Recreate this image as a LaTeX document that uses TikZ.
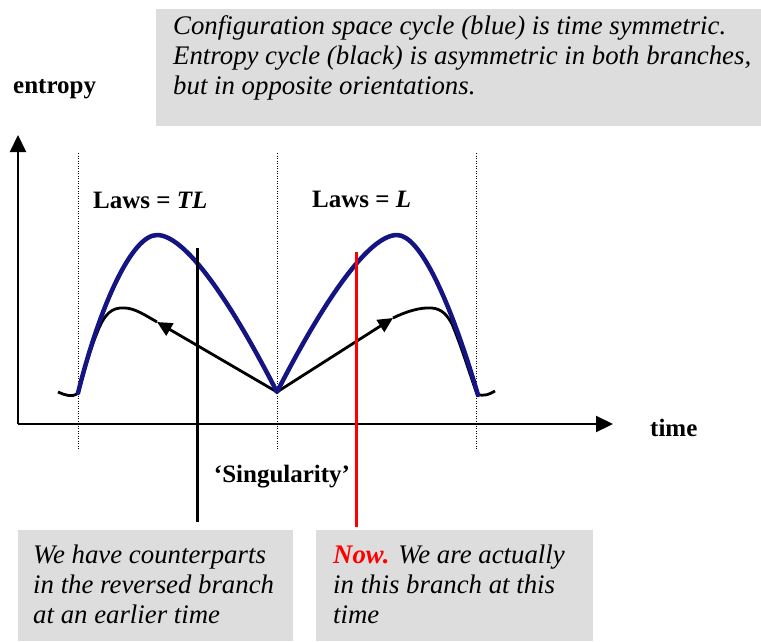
\documentclass[tikz,border=0pt]{standalone}
\usepackage{fontspec}
\setmainfont{Liberation Serif}
\usetikzlibrary{arrows.meta}
\definecolor{boxgray}{RGB}{221,221,221}
\definecolor{cycblue}{RGB}{20,20,130}
\definecolor{nowred}{RGB}{255,0,0}
\begin{document}
\begin{tikzpicture}[x=1pt,y=-1pt,
  itxt/.style={inner sep=0pt, anchor=base west, font=\fontsize{26.8}{30}\selectfont\itshape},
  blbl/.style={inner sep=0pt, font=\fontsize{25}{30}\selectfont\bfseries},
  notebox/.style={fill=boxgray, draw=none},
  axisline/.style={line width=2.2pt, -{Triangle[length=17pt,width=16pt]}},
  guide/.style={line width=1pt, dash pattern=on 1pt off 1.5pt},
  bluecyc/.style={line width=4.5pt, cycblue, line join=round, line cap=round},
  entcyc/.style={line width=2.8pt, black, line join=round},
  entarrow/.style={line width=2.8pt, black, -{Triangle[length=15pt,width=14pt]}},
  marker/.style={line width=3pt}
]
\useasboundingbox (0,0) rectangle (761,641);

% note boxes
\fill[notebox] (156,9) rectangle (761,126);
\fill[notebox] (18,530) rectangle (293,641);
\fill[notebox] (316,530) rectangle (593,641);

% top note
\node[itxt] (t1) at (173,34) {Configuration space cycle (blue) is time symmetric.};
\node[itxt] (t2) at (173,64) {Entropy cycle (black) is asymmetric in both branches,};
\node[itxt] (t3) at (173,94) {but in opposite orientations.};

% axes
\coordinate (O) at (18,424);
\coordinate (ytip) at (18,135);
\coordinate (xtip) at (613,424);
\draw[axisline] (O) -- (ytip);
\draw[axisline] (O) -- (xtip);
\node[blbl, anchor=base west] (ylab) at (13,93) {entropy};
\node[blbl, anchor=base west] (xlab) at (650,436) {time};

% dotted guides
\coordinate (g1t) at (78,153);  \coordinate (g1b) at (78,450);
\coordinate (g2t) at (277,153); \coordinate (g2b) at (277,450);
\coordinate (g3t) at (476,153); \coordinate (g3b) at (476,450);
\draw[guide] (g1t) -- (g1b);
\draw[guide] (g2t) -- (g2b);
\draw[guide] (g3t) -- (g3b);

% laws labels
\node[blbl, anchor=base west] (lawsTL) at (93,208) {Laws = \textit{TL}};
\node[blbl, anchor=base west] (lawsL) at (312,207) {Laws = \textit{L}};

% key points
\coordinate (cusp) at (277,392);
\coordinate (aL) at (157,322);
\coordinate (aR) at (393,318);

% entropy cycle (black)
\draw[entarrow] (cusp) -- (aL);
\draw[entarrow] (cusp) -- (aR);
\draw[entcyc] (aL) .. controls (140,312) and (132,307) .. (120,308)
  .. controls (108,309) and (102,320) .. (97,333)
  .. controls (88,355) and (82,380) .. (78,393)
  .. controls (72,398) and (65,395) .. (58,392);
\draw[entcyc] (aR) .. controls (405,312) and (420,307) .. (432,308)
  .. controls (442,309) and (447,315) .. (452,324)
  .. controls (462,348) and (470,375) .. (477,394)
  .. controls (484,397) and (490,394) .. (495,391);

% configuration cycle (blue)
\draw[bluecyc] (78,393) .. controls (100,305) and (132,235) .. (157,235)
  .. controls (185,235) and (230,300) .. (cusp)
  .. controls (324,300) and (369,235) .. (397,235)
  .. controls (420,235) and (450,300) .. (478,395);

% markers
\coordinate (bTop) at (197,248);
\coordinate (bBot) at (197,522);
\coordinate (rTop) at (356,252);
\coordinate (rBot) at (356,527);
\draw[marker, black] (bTop) -- (bBot);
\draw[marker, nowred] (rTop) -- (rBot);

\node[blbl, anchor=base] (sing) at (282,482) {‘Singularity’};

% bottom notes
\node[itxt] (l1) at (33,563) {We have counterparts};
\node[itxt] (l2) at (33,593) {in the reversed branch};
\node[itxt] (l3) at (33,623) {at an earlier time};
\node[itxt] (r1) at (333,563) {{\color{nowred}\bfseries Now.} We are actually};
\node[itxt] (r2) at (333,593) {in this branch at this};
\node[itxt] (r3) at (333,623) {time};
\end{tikzpicture}
\end{document}
